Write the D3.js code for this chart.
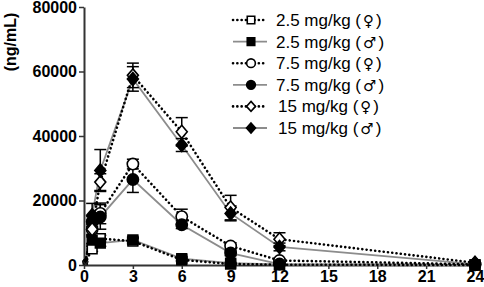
<!DOCTYPE html>
<html>
<head>
<meta charset="utf-8">
<script src="https://cdn.jsdelivr.net/npm/d3@7"></script>
<style>
  body { margin: 0; background: #fff; }
  svg { display: block; font-family: "Liberation Sans", Arial, sans-serif; }
</style>
</head>
<body>
<div id="chart"></div>
<script>
// sampling times (h)
const times = [0.083, 0.5, 1, 3, 6, 9, 12, 24]

// mean concentrations (ng/mL)
const f25 = [600, 5000, 8200, 7400, 1600, 300, 100, 0]
const m25 = [800, 7700, 6800, 7800, 2000, 600, 150, 0]
const f75 = [900, 11000, 16000, 31300, 15000, 5900, 1400, 200]
const m75 = [1000, 13500, 14900, 26500, 12500, 3700, 300, 100]
const f15 = [1100, 11100, 25700, 58800, 41300, 17800, 8000, 700]
const m15 = [1300, 15400, 29300, 57700, 37200, 16000, 5600, 300]

// SEM
const f25e = [0, 800, 1000, 800, 500, 200, 100, 0]
const m25e = [0, 1000, 1000, 800, 500, 200, 100, 0]
const f75e = [0, 1500, 3200, 1500, 2300, 1000, 500, 100]
const m75e = [0, 1500, 3800, 4000, 1200, 800, 200, 100]
const f15e = [0, 2000, 2600, 3800, 4400, 3800, 2000, 300]
const m15e = [0, 3700, 6500, 3800, 2000, 2300, 1200, 200]

const xTicks = [0, 3, 6, 9, 12, 15, 18, 21, 24]
const yTicks = [0, 20000, 40000, 60000, 80000]

const series = [
  { dose: "2.5 mg/kg", sym: "\u2640", values: f25, err: f25e, sex: "f", shape: "square" },
  { dose: "2.5 mg/kg", sym: "\u2642", values: m25, err: m25e, sex: "m", shape: "square" },
  { dose: "7.5 mg/kg", sym: "\u2640", values: f75, err: f75e, sex: "f", shape: "circle" },
  { dose: "7.5 mg/kg", sym: "\u2642", values: m75, err: m75e, sex: "m", shape: "circle" },
  { dose: "15 mg/kg", sym: "\u2640", values: f15, err: f15e, sex: "f", shape: "diamond" },
  { dose: "15 mg/kg", sym: "\u2642", values: m15, err: m15e, sex: "m", shape: "diamond" },
]

const W = 484, H = 287
const plotL = 84, plotR = 475, plotT = 7, plotB = 265

const svg = d3.select("#chart").append("svg")
  .attr("width", W).attr("height", H)

const x = d3.scaleLinear().domain([0, 24]).range([plotL, plotR])
const y = d3.scaleLinear().domain([0, 80000]).range([plotB, plotT])

// axes
svg.append("g")
  .attr("transform", `translate(0,${plotB})`)
  .call(d3.axisBottom(x).tickValues(xTicks).tickSize(4).tickSizeOuter(0))
  .call(g => g.select(".domain").attr("stroke", "#333").attr("stroke-width", 2))
  .call(g => g.selectAll(".tick line").attr("stroke", "#333").attr("stroke-width", 1.5))
  .call(g => g.selectAll("text").attr("font-size", 16).attr("font-weight", "bold")
    .attr("fill", "#000").attr("y", 5).attr("dy", "0.72em"))

svg.append("g")
  .attr("transform", `translate(${plotL},0)`)
  .call(d3.axisLeft(y).tickValues(yTicks).tickFormat(d3.format("d")).tickSize(5).tickSizeOuter(0))
  .call(g => g.select(".domain").attr("stroke", "#333").attr("stroke-width", 2))
  .call(g => g.selectAll(".tick line").attr("stroke", "#333").attr("stroke-width", 1.5))
  .call(g => g.selectAll("text").attr("font-size", 16).attr("font-weight", "bold")
    .attr("fill", "#000").attr("x", -7))

svg.append("text")
  .attr("transform", "translate(16,42) rotate(-90)")
  .attr("text-anchor", "middle")
  .attr("font-size", 16).attr("font-weight", "bold")
  .text("(ng/mL)")

// marker symbols
const symbolPath = {
  square: d3.symbol().type(d3.symbolSquare).size(95)(),
  circle: d3.symbol().type(d3.symbolCircle).size(100)(),
  diamond: "M0,-6.5L5.5,0L0,6.5L-5.5,0Z",
}
const legendPath = {
  square: d3.symbol().type(d3.symbolSquare).size(56)(),
  circle: d3.symbol().type(d3.symbolCircle).size(60)(),
  diamond: "M0,-5L4.5,0L0,5L-4.5,0Z",
}

function lineStyle(sel, sex) {
  if (sex === "f") {
    sel.attr("stroke", "#000").attr("stroke-width", 2.6)
      .attr("stroke-dasharray", "0.1,4.2").attr("stroke-linecap", "round")
  } else {
    sel.attr("stroke", "#8c8c8c").attr("stroke-width", 1.8)
  }
}

function markerStyle(sel, s, paths) {
  sel.attr("d", (paths || symbolPath)[s.shape])
    .attr("fill", s.sex === "f" ? "#fff" : "#000")
    .attr("stroke", "#000").attr("stroke-width", 1.6)
}

const line = d3.line().x((d, i) => x(times[i])).y(d => y(d))

// lines, male below female
const order = [1, 3, 5, 0, 2, 4]
order.forEach(k => {
  const s = series[k]
  svg.append("path").datum(s.values)
    .attr("fill", "none").attr("d", line)
    .call(lineStyle, s.sex)
})

// error bars
series.forEach(s => {
  const g = svg.append("g").attr("stroke", "#000").attr("stroke-width", 1.5)
  s.values.forEach((v, i) => {
    if (s.err[i] <= 0) return
    const cx = x(times[i])
    const y1 = y(v + s.err[i]), y0 = y(Math.max(0, v - s.err[i]))
    g.append("line").attr("x1", cx).attr("x2", cx).attr("y1", y1).attr("y2", y0)
    g.append("line").attr("x1", cx - 6).attr("x2", cx + 6).attr("y1", y1).attr("y2", y1)
    g.append("line").attr("x1", cx - 6).attr("x2", cx + 6).attr("y1", y0).attr("y2", y0)
  })
})

// markers (first sample drawn as a small dot)
series.forEach(s => {
  svg.append("g").selectAll("path")
    .data(s.values).enter()
    .append("path")
      .attr("transform", (d, i) => `translate(${x(times[i])},${y(d)})` + (i === 0 ? " scale(0.45)" : ""))
      .call(markerStyle, s)
})

// legend
const legend = svg.append("g").attr("transform", "translate(233,20)")
series.forEach((s, i) => {
  const row = legend.append("g").attr("transform", `translate(0,${i * 21.6})`)
  row.append("line").attr("x1", 0).attr("x2", 34).attr("y1", 0).attr("y2", 0)
    .call(lineStyle, s.sex)
  row.append("path").attr("transform", "translate(18,0)").call(markerStyle, s, legendPath)
  const t = row.append("text").attr("x", s.dose.length > 8 ? 43 : 45).attr("y", 6)
    .attr("font-size", 17)
  t.append("tspan").text(s.dose + " (")
  t.append("tspan").attr("font-family", "DejaVu Sans").attr("font-size", 15)
    .attr("dx", 2).text(s.sym)
  t.append("tspan").attr("dx", 2).text(")")
})
</script>
</body>
</html>
